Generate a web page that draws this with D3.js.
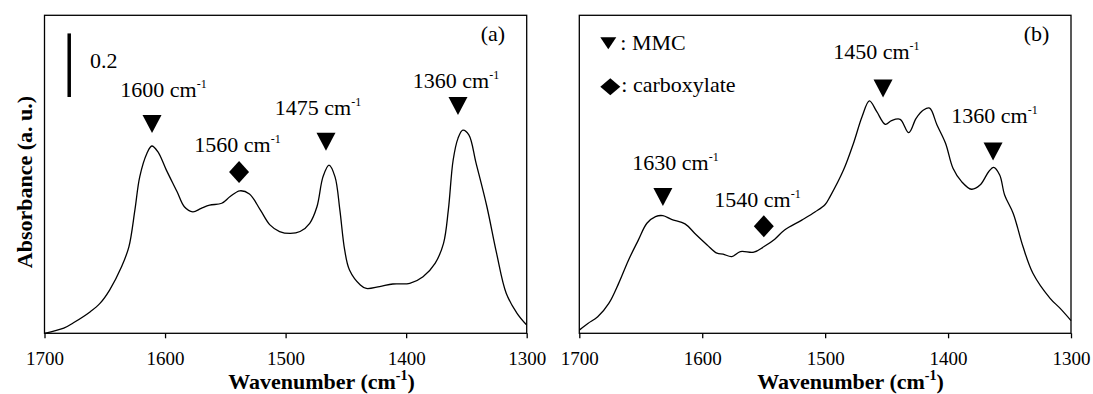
<!DOCTYPE html>
<html><head><meta charset="utf-8">
<script src="https://cdn.jsdelivr.net/npm/d3@7"></script>
<style>
html,body{margin:0;padding:0;background:#fff;}
svg text, svg tspan{font-family:"Liberation Serif","Times New Roman",serif !important;fill:#000;}
</style></head>
<body>
<svg id="chart" width="1093" height="394" font-family="Liberation Serif, serif"></svg>
<script>
// ---- data ----
const xTicks = [1700, 1600, 1500, 1400, 1300];

const aWn = [1700,1684,1676,1662,1654,1646,1636,1630,1625,1621,1615,1611,1606,1599,1590,1584,1577,1570,1563,1553,1546,1538,1530,1521,1513,1505,1496,1488,1480,1474,1469,1464,1459,1455,1451,1447,1438,1433,1422,1411,1397,1386,1376,1369,1365,1361,1357,1353,1348,1342,1333,1325,1317,1308,1300];
const aAbs = [0.000,0.016,0.033,0.068,0.094,0.136,0.210,0.272,0.388,0.492,0.566,0.589,0.571,0.514,0.445,0.398,0.382,0.393,0.403,0.409,0.430,0.448,0.438,0.388,0.341,0.320,0.314,0.320,0.346,0.398,0.492,0.529,0.492,0.388,0.262,0.199,0.152,0.141,0.147,0.155,0.157,0.178,0.220,0.283,0.388,0.545,0.613,0.639,0.624,0.535,0.398,0.252,0.126,0.063,0.026];

const bWn = [1700,1693,1685,1676,1668,1660,1652,1645,1638,1632,1625,1614,1606,1596,1588,1583,1576,1569,1558,1550,1541,1533,1519,1508,1500,1496,1485,1477,1470,1464,1458,1451,1446,1439,1432,1426,1420,1415,1409,1402,1396,1389,1381,1374,1367,1363,1358,1354,1347,1339,1331,1317,1309,1300];
const bAbs = [0.010,0.031,0.052,0.094,0.157,0.230,0.293,0.346,0.367,0.370,0.358,0.344,0.314,0.278,0.252,0.249,0.241,0.257,0.255,0.272,0.296,0.325,0.356,0.382,0.405,0.430,0.514,0.597,0.681,0.731,0.697,0.657,0.669,0.673,0.631,0.676,0.702,0.708,0.655,0.597,0.519,0.477,0.453,0.466,0.508,0.522,0.498,0.435,0.377,0.272,0.189,0.110,0.079,0.040];

// annotations: label, label position (wn, abs), marker type, marker position (wn, abs)
const aLabels   = ["1600", "1560", "1475", "1360"];
const aLabelWn  = [1601.3, 1539.9, 1473.1, 1358.6];
const aLabelAbs = [0.743, 0.570, 0.686, 0.771];
const aMarkType = ["tri", "dia", "tri", "tri"];
const aMarkWn   = [1610.8, 1538.6, 1466.5, 1357.0];
const aMarkAbs  = [0.658, 0.507, 0.602, 0.715];

const bLabels   = ["1630", "1540", "1450", "1360"];
const bLabelWn  = [1621.7, 1555.0, 1458.3, 1362.2];
const bLabelAbs = [0.514, 0.397, 0.863, 0.661];
const bMarkType = ["tri", "dia", "tri", "tri"];
const bMarkWn   = [1632.0, 1549.9, 1452.9, 1363.4];
const bMarkAbs  = [0.429, 0.337, 0.770, 0.572];

const panelTags = ["(a)", "(b)"];
const legendNames = [": MMC", ": carboxylate"];
const scaleBarValue = 0.2;

// ---- drawing ----
const FONT = '"Liberation Serif", "Times New Roman", serif';
const svg = d3.select("#chart");
const H = { top: 15.3, bottom: 333.3 };
const panels = [
  { left: 44.5, right: 526.7, wn: aWn, ab: aAbs, labels: aLabels, lwn: aLabelWn, lab: aLabelAbs,
    mt: aMarkType, mwn: aMarkWn, mab: aMarkAbs, tag: panelTags[0], titleX: 321.5 },
  { left: 579.3, right: 1071, wn: bWn, ab: bAbs, labels: bLabels, lwn: bLabelWn, lab: bLabelAbs,
    mt: bMarkType, mwn: bMarkWn, mab: bMarkAbs, tag: panelTags[1], titleX: 850.5 }
];

const triPath = "M-9.5,-9L9.5,-9L0,9Z";
const diaPath = "M0,-11L10,0L0,11L-10,0Z";

function txt(sel) { return sel.append("text").style("font-family", FONT).attr("fill", "#000"); }

panels.forEach((p, i) => {
  const x = d3.scaleLinear().domain([1700, 1300]).range([p.left, p.right]);
  const y = d3.scaleLinear().domain([0, 1]).range([H.bottom, H.top]);
  const g = svg.append("g");

  // frame
  g.append("rect").attr("x", p.left).attr("y", H.top)
    .attr("width", p.right - p.left).attr("height", H.bottom - H.top)
    .attr("fill", "none").attr("stroke", "#000").attr("stroke-width", 1.3);

  // x axis
  const ax = g.append("g").attr("transform", `translate(0,${H.bottom})`)
    .call(d3.axisBottom(x).tickValues(xTicks).tickSize(5).tickSizeOuter(0).tickFormat(d3.format("d")));
  ax.attr("font-family", null).attr("font-size", null);
  ax.select(".domain").remove();
  ax.selectAll(".tick line").attr("stroke", "#000").attr("stroke-width", 1.3);
  ax.selectAll(".tick text").attr("y", 32).attr("dy", 0)
    .style("font-family", FONT).style("font-size", "19px").attr("fill", "#000");

  // curve
  const pts = p.wn.map((w, k) => [w, p.ab[k]]);
  g.append("path").datum(pts)
    .attr("fill", "none").attr("stroke", "#000").attr("stroke-width", 1.3)
    .attr("d", d3.line().x(d => x(d[0])).y(d => y(d[1])).curve(d3.curveCatmullRom.alpha(0.5)));

  // markers
  p.mt.forEach((t, k) => {
    g.append("path").attr("d", t === "tri" ? triPath : diaPath)
      .attr("transform", `translate(${x(p.mwn[k])},${y(p.mab[k])})`).attr("fill", "#000");
  });
  // labels
  p.labels.forEach((l, k) => {
    const t = txt(g).attr("x", x(p.lwn[k])).attr("y", y(p.lab[k]))
      .attr("text-anchor", "middle").style("font-size", "22px");
    t.append("tspan").text(l + " cm");
    t.append("tspan").text("-1").style("font-size", "12px").attr("dy", -9);
  });

  // panel tag
  txt(g).attr("x", x(1328)).attr("y", y(0.919))
    .attr("text-anchor", "middle").style("font-size", "22px").text(p.tag);

  // x title
  const xt = txt(g).attr("x", p.titleX).attr("y", 389)
    .attr("text-anchor", "middle").style("font-size", "22px").style("font-weight", "bold");
  xt.append("tspan").text("Wavenumber (cm");
  xt.append("tspan").text("-1").style("font-size", "14px").attr("dy", -9);
  xt.append("tspan").text(")").attr("dy", 9);

  if (i === 0) {
    // scale bar
    g.append("line").attr("x1", x(1679.5)).attr("x2", x(1679.5))
      .attr("y1", y(0.943)).attr("y2", y(0.943 - scaleBarValue))
      .attr("stroke", "#000").attr("stroke-width", 3.5);
    txt(g).attr("x", x(1662.3)).attr("y", y(0.834))
      .style("font-size", "22px").text(String(scaleBarValue));
    // y title
    txt(svg).attr("transform", "translate(31.5,182) rotate(-90)")
      .attr("text-anchor", "middle").style("font-size", "22px").style("font-weight", "bold")
      .text("Absorbance (a. u.)");
  } else {
    // legend
    g.append("path").attr("d", "M-8,-6L8,-6L0,6Z").attr("transform", `translate(${p.left + 29},43.3)`).attr("fill", "#000");
    txt(g).attr("x", p.left + 41).attr("y", 50).style("font-size", "22px").text(legendNames[0]);
    g.append("path").attr("d", "M0,-8.5L10,0L0,8.5L-10,0Z").attr("transform", `translate(${p.left + 31},86.7)`).attr("fill", "#000");
    txt(g).attr("x", p.left + 42).attr("y", 92).style("font-size", "22px").text(legendNames[1]);
  }
});
</script>
</body></html>
